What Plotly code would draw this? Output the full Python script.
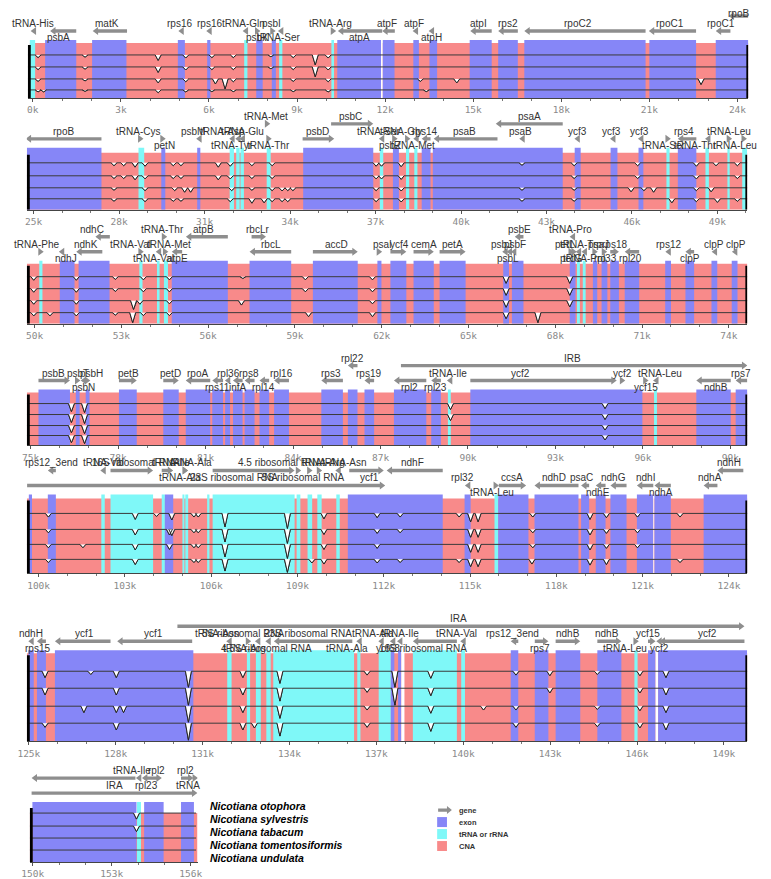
import plotly.graph_objects as go

W, H = 771, 879
OFF = 8                      # default page margin of the html body
FW, FH = W - OFF, H - OFF    # figure size so that it fits in the window

# ---------------- data ----------------
SPECIES = ["Nicotiana otophora", "Nicotiana sylvestris", "Nicotiana tabacum",
           "Nicotiana tomentosiformis", "Nicotiana undulata"]
LEGEND_LABELS = ["gene", "exon", "tRNA or rRNA", "CNA"]

PANEL_START = [-0.17, 24.76, 49.73, 74.87, 99.59, 124.93, 149.89]
PANEL_END = [24.37, 50.05, 74.64, 99.58, 124.64, 149.81, 156.26]
TICK_VALUES = [
    [0, 3, 6, 9, 12, 15, 18, 21, 24],
    [25, 28, 31, 34, 37, 40, 43, 46, 49],
    [50, 53, 56, 59, 62, 65, 68, 71, 74],
    [75, 78, 81, 84, 87, 90, 93, 96, 99],
    [100, 103, 106, 109, 112, 115, 118, 121, 124],
    [125, 128, 131, 134, 137, 140, 143, 146, 149],
    [150, 153, 156],
]

# blocks: (start kb, end kb, type)  e = exon, r = tRNA/rRNA, w = gap
P1_BLOCKS = [(-0.1, 0.08, 'r'), (0.42, 1.48, 'e'), (2.02, 3.19, 'e'), (4.94, 5.18, 'e'),
             (5.94, 6.05, 'e'), (7.2, 7.31, 'r'), (7.61, 7.83, 'e'), (8.14, 8.28, 'e'),
             (8.39, 8.5, 'r'), (10.17, 10.26, 'r'), (10.37, 11.86, 'e'), (11.86, 11.92, 'w'),
             (11.92, 12.32, 'e'), (12.96, 13.15, 'e'), (13.51, 13.77, 'e'), (14.88, 15.63, 'e'),
             (15.85, 16.52, 'e'), (16.74, 20.87, 'e'), (21.0, 22.59, 'e'), (23.26, 24.37, 'e')]
P2_BLOCKS = [(24.76, 27.38, 'e'), (28.68, 28.88, 'r'), (29.48, 29.62, 'e'), (30.74, 30.85, 'e'),
             (31.88, 32.03, 'r'), (32.11, 32.23, 'r'), (32.26, 32.38, 'r'), (33.18, 33.32, 'r'),
             (34.46, 36.92, 'e'), (37.15, 37.27, 'r'), (37.61, 37.82, 'e'), (38.07, 38.18, 'r'),
             (38.36, 38.47, 'r'), (38.62, 38.93, 'e'), (39.01, 43.57, 'e'), (43.99, 44.2, 'e'),
             (45.25, 45.49, 'e'), (46.23, 46.4, 'e'), (47.21, 47.32, 'r'), (47.61, 48.26, 'e'),
             (48.58, 48.7, 'r'), (49.35, 49.43, 'r'), (49.87, 50.04, 'r')]
P3_BLOCKS = [(50.16, 50.27, 'r'), (50.87, 51.38, 'e'), (51.52, 52.59, 'e'), (53.62, 53.73, 'r'),
             (54.23, 54.32, 'r'), (54.47, 54.61, 'r'), (54.74, 56.68, 'e'), (57.43, 58.87, 'e'),
             (59.62, 61.17, 'e'), (61.85, 61.99, 'e'), (62.3, 62.85, 'e'), (63.1, 63.8, 'e'),
             (64.0, 64.9, 'e'), (66.2, 66.4, 'e'), (66.5, 66.9, 'e'), (68.5, 68.7, 'e'),
             (68.75, 68.85, 'r'), (68.95, 69.05, 'r'), (69.3, 69.45, 'e'), (69.6, 69.8, 'e'),
             (69.9, 70.2, 'e'), (70.4, 70.9, 'e'), (71.8, 72.0, 'e'), (72.5, 72.8, 'e'),
             (73.4, 73.6, 'e'), (74.1, 74.3, 'e')]
P4_BLOCKS = [(75.27, 76.35, 'e'), (76.55, 76.68, 'e'), (76.89, 77.02, 'e'), (78.03, 78.64, 'e'),
             (79.55, 80.08, 'e'), (80.32, 81.16, 'e'), (81.23, 81.6, 'e'), (81.67, 81.84, 'e'),
             (81.94, 82.27, 'e'), (82.34, 82.68, 'e'), (82.85, 83.18, 'e'), (83.35, 83.86, 'e'),
             (84.97, 85.71, 'e'), (85.88, 86.21, 'e'), (86.45, 86.78, 'e'), (87.46, 88.57, 'e'),
             (88.74, 89.07, 'e'), (89.31, 89.41, 'r'), (90.08, 95.98, 'e'), (96.38, 96.48, 'r'),
             (97.83, 99.01, 'e'), (99.18, 99.58, 'e')]
P5_BLOCKS = [(99.66, 99.77, 'e'), (100.32, 100.6, 'e'), (102.18, 102.3, 'r'), (102.5, 103.98, 'r'),
             (104.28, 104.39, 'r'), (104.39, 104.68, 'e'), (105.0, 105.07, 'r'), (105.1, 105.2, 'r'),
             (105.86, 105.94, 'r'), (106.05, 108.9, 'r'), (108.97, 109.1, 'r'), (109.35, 109.51, 'r'),
             (109.69, 109.84, 'r'), (110.35, 110.47, 'r'), (110.75, 114.05, 'e'), (114.81, 115.02, 'e'),
             (115.85, 115.98, 'r'), (115.98, 117.03, 'e'), (117.24, 118.77, 'e'), (118.86, 119.14, 'e'),
             (119.37, 119.71, 'e'), (119.88, 120.44, 'e'), (120.8, 121.37, 'e'), (121.37, 121.41, 'w'),
             (121.41, 121.98, 'e'), (123.12, 124.64, 'e')]
P6_BLOCKS = [(124.98, 125.17, 'e'), (125.28, 125.59, 'e'), (125.9, 130.68, 'e'), (131.85, 132.0, 'r'),
             (132.53, 132.64, 'r'), (132.84, 133.01, 'r'), (133.2, 133.35, 'r'), (133.44, 136.23, 'r'),
             (136.34, 136.45, 'r'), (137.08, 137.5, 'r'), (137.5, 137.62, 'e'), (137.75, 137.86, 'e'),
             (137.86, 137.97, 'w'), (138.26, 139.78, 'r'), (139.93, 140.06, 'r'), (141.64, 141.9, 'e'),
             (142.47, 142.94, 'e'), (143.19, 144.04, 'e'), (144.63, 145.46, 'e'), (145.91, 146.02, 'r'),
             (146.38, 146.64, 'e'), (146.64, 146.73, 'w'), (146.73, 149.8, 'e')]
P7_BLOCKS = [(149.99, 153.94, 'e'), (153.96, 154.11, 'r'), (154.23, 154.97, 'e'), (155.63, 156.12, 'e')]

# genes: (name, start, end, strand, arrow row, label side, label centre kb)
P1_GENES = [("tRNA-His", -0.02, 0.06, '-', 0, 'a', 0.0), ("psbA", 0.59, 1.48, '-', 0, 'b', 0.87),
            ("matK", 2.04, 3.21, '-', 0, 'a', 2.54), ("rps16", 4.94, 5.16, '-', 0, 'a', 4.99),
            ("rps16", 5.94, 6.06, '-', 0, 'a', 6.02), ("tRNA-Gln", 7.18, 7.3, '-', 0, 'a', 7.17),
            ("psbK", 7.6, 7.72, '+', 0, 'b', 7.65), ("psbI", 8.12, 8.24, '+', 0, 'a', 8.12),
            ("tRNA-Ser", 8.38, 8.5, '-', 0, 'b', 8.36), ("tRNA-Arg", 10.18, 10.3, '+', 0, 'a', 10.14),
            ("atpA", 10.39, 11.9, '-', 0, 'b', 11.12), ("atpF", 11.9, 12.33, '-', 0, 'a', 12.07),
            ("atpF", 12.96, 13.1, '-', 0, 'a', 13.0), ("atpH", 13.5, 13.65, '-', 0, 'b', 13.57),
            ("atpI", 14.9, 15.63, '-', 0, 'a', 15.18), ("rps2", 15.85, 16.52, '-', 0, 'a', 16.19),
            ("rpoC2", 16.74, 20.87, '-', 0, 'a', 18.58), ("rpoC1", 20.98, 22.59, '-', 0, 'a', 21.7),
            ("rpoC1", 23.26, 23.76, '-', 0, 'a', 23.43), ("rpoB", 23.7, 24.37, '-', 1, 'a', 24.04)]
P2_GENES = [("rpoB", 24.72, 27.38, '-', 0, 'a', 26.04), ("tRNA-Cys", 28.7, 28.82, '+', 0, 'a', 28.68),
            ("petN", 29.48, 29.6, '+', 0, 'b', 29.59), ("psbM", 30.74, 30.86, '-', 0, 'a', 30.6),
            ("tRNA-Asp", 31.9, 32.02, '-', 0, 'a', 31.64), ("tRNA-Glu", 32.26, 32.38, '-', 0, 'a', 32.33),
            ("tRNA-Tyr", 32.11, 32.23, '-', 0, 'b', 31.96), ("tRNA-Thr", 33.2, 33.32, '+', 0, 'b', 33.23),
            ("tRNA-Met", 33.15, 33.27, '+', 1, 'a', 33.14), ("psbD", 34.44, 35.55, '+', 0, 'a', 34.98),
            ("psbC", 35.44, 36.92, '+', 1, 'a', 36.12), ("tRNA-Ser", 37.15, 37.27, '-', 0, 'a', 37.1),
            ("psbZ", 37.62, 37.74, '+', 0, 'b', 37.5), ("tRNA-Gly", 38.07, 38.19, '+', 0, 'a', 37.9),
            ("tRNA-Met", 38.36, 38.48, '-', 0, 'b', 38.3), ("rps14", 38.62, 38.93, '-', 0, 'a', 38.73),
            ("psaB", 39.04, 41.28, '-', 0, 'a', 40.13), ("psaB", 42.08, 42.2, '-', 0, 'a', 42.08),
            ("psaA", 41.22, 43.57, '-', 1, 'a', 42.42), ("ycf3", 44.0, 44.15, '-', 0, 'a', 44.08),
            ("ycf3", 45.25, 45.4, '-', 0, 'a', 45.29), ("ycf3", 46.23, 46.38, '-', 0, 'a', 46.26),
            ("tRNA-Ser", 47.21, 47.33, '+', 0, 'b', 47.12), ("rps4", 47.61, 48.26, '-', 0, 'a', 47.81),
            ("tRNA-Thr", 48.6, 48.72, '-', 0, 'b', 48.24), ("tRNA-Leu", 49.36, 49.48, '+', 0, 'a', 49.41),
            ("tRNA-Leu", 49.88, 50.0, '+', 0, 'b', 49.6)]
P3_GENES = [("tRNA-Phe", 50.16, 50.28, '+', 0, 'a', 50.08), ("ndhJ", 50.87, 50.99, '-', 0, 'b', 51.1),
            ("ndhK", 51.44, 52.34, '-', 0, 'a', 51.78), ("ndhC", 52.1, 52.6, '-', 1, 'a', 52.0),
            ("tRNA-Val", 53.62, 53.74, '+', 0, 'a', 53.3), ("tRNA-Met", 54.22, 54.34, '-', 0, 'a', 54.66),
            ("tRNA-Val", 54.47, 54.59, '+', 0, 'b', 54.1), ("atpE", 54.74, 55.1, '-', 0, 'b', 54.95),
            ("tRNA-Thr", 54.43, 54.55, '+', 1, 'a', 54.43), ("atpB", 55.23, 56.68, '-', 1, 'a', 55.85),
            ("rbcLr", 57.5, 58.0, '+', 1, 'a', 57.72), ("rbcL", 57.43, 58.87, '-', 0, 'a', 58.17),
            ("accD", 59.62, 61.17, '+', 0, 'a', 60.43), ("psaI", 61.86, 61.98, '+', 0, 'a', 62.02),
            ("ycf4", 62.3, 62.85, '+', 0, 'a', 62.6), ("cemA", 63.1, 63.8, '+', 0, 'a', 63.45),
            ("petA", 64.0, 64.9, '+', 0, 'a', 64.45), ("psbJ", 66.2, 66.32, '-', 0, 'a', 66.15),
            ("psbL", 66.35, 66.47, '-', 0, 'b', 66.35), ("psbF", 66.5, 66.62, '-', 0, 'a', 66.6),
            ("psbE", 66.6, 66.9, '-', 1, 'a', 66.77), ("petL", 68.5, 68.6, '+', 0, 'a', 68.35),
            ("petG", 68.6, 68.7, '+', 0, 'b', 68.55), ("tRNA-Trp", 68.75, 68.85, '-', 0, 'a', 68.9),
            ("tRNA-Pro", 68.95, 69.05, '-', 0, 'b', 69.0), ("tRNA-Pro", 68.53, 68.65, '-', 1, 'a', 68.53),
            ("psaJ", 69.3, 69.45, '+', 0, 'a', 69.5), ("rpl33", 69.6, 69.8, '+', 0, 'b', 69.75),
            ("rps18", 69.9, 70.2, '+', 0, 'a', 70.05), ("rpl20", 70.4, 70.9, '-', 0, 'b', 70.6),
            ("rps12", 71.8, 72.0, '-', 0, 'a', 71.9), ("clpP", 72.5, 72.8, '-', 0, 'b', 72.65),
            ("clpP", 73.4, 73.6, '-', 0, 'a', 73.5), ("clpP", 74.1, 74.3, '-', 0, 'a', 74.25)]
P4_GENES = [("psbB", 75.27, 76.35, '+', 0, 'a', 75.8), ("psbT", 76.55, 76.68, '+', 0, 'a', 76.62),
            ("psbN", 76.75, 76.87, '-', 0, 'b', 76.8), ("psbH", 76.89, 77.02, '+', 0, 'a', 77.1),
            ("petB", 78.03, 78.64, '+', 0, 'a', 78.35), ("petD", 79.55, 80.08, '+', 0, 'a', 79.8),
            ("rpoA", 80.32, 81.16, '-', 0, 'a', 80.74), ("rps11", 81.23, 81.6, '-', 0, 'b', 81.4),
            ("rpl36", 81.67, 81.84, '-', 0, 'a', 81.8), ("infA", 81.94, 82.27, '-', 0, 'b', 82.1),
            ("rps8", 82.34, 82.68, '-', 0, 'a', 82.5), ("rpl14", 82.85, 83.18, '-', 0, 'b', 83.0),
            ("rpl16", 83.35, 83.86, '-', 0, 'a', 83.6), ("rps3", 84.97, 85.71, '-', 0, 'a', 85.3),
            ("rpl22", 85.88, 86.21, '-', 1, 'a', 86.05), ("rps19", 86.45, 86.78, '-', 0, 'a', 86.6),
            ("rpl2", 87.46, 88.57, '-', 0, 'b', 88.0), ("rpl23", 88.74, 89.07, '-', 0, 'b', 88.9),
            ("tRNA-Ile", 89.31, 89.43, '-', 0, 'a', 89.3), ("ycf2", 90.08, 95.1, '+', 0, 'a', 91.8),
            ("ycf2", 95.2, 95.4, '+', 0, 'a', 95.3),
            ("ycf15", 96.0, 96.2, '+', 0, 'b', 96.1), ("tRNA-Leu", 96.38, 96.5, '-', 0, 'a', 96.6),
            ("ndhB", 97.83, 99.01, '-', 0, 'b', 98.5), ("rps7", 99.18, 99.58, '-', 0, 'a', 99.35),
            ("IRB", 87.7, 99.58, '+', 1, 'a', 93.6)]
P5_GENES = [("", 99.6, 112.05, '+', 0, '', 0),
            ("rps12_3end", 100.32, 100.6, '-', 1, 'a', 100.45), ("tRNA-Val", 102.18, 102.3, '-', 1, 'a', 102.24),
            ("16S ribosomal RNA", 102.5, 103.98, '+', 1, 'a', 103.4), ("tRNA-Ile", 104.28, 104.68, '+', 1, 'a', 104.6),
            ("tRNA-Ala", 105.0, 105.2, '+', 1, 'a', 105.3), ("tRNA-Ala", 105.0, 105.2, '+', 1, 'b', 104.9),
            ("23S ribosomal RNA", 106.05, 108.9, '+', 1, 'b', 106.8), ("4.5 ribosomal RNA", 108.97, 109.1, '+', 1, 'a', 108.4),
            ("5S ribosomal RNA", 109.35, 109.51, '+', 1, 'b', 109.2), ("tRNA-Arg", 109.69, 109.84, '+', 1, 'a', 109.9),
            ("tRNA-Asn", 110.35, 110.47, '-', 1, 'a', 110.6), ("ycf1", 110.8, 112.0, '+', 1, 'b', 111.5),
            ("ndhF", 112.1, 114.05, '-', 1, 'a', 113.0),
            ("rpl32", 114.81, 115.02, '-', 0, 'a', 114.74), ("tRNA-Leu", 115.85, 115.97, '+', 0, 'b', 115.76),
            ("ccsA", 116.0, 116.95, '+', 0, 'a', 116.45), ("ndhD", 117.24, 118.77, '-', 0, 'a', 117.92),
            ("psaC", 118.86, 119.14, '-', 0, 'a', 118.87), ("ndhE", 119.37, 119.71, '-', 0, 'b', 119.45),
            ("ndhG", 119.88, 120.44, '-', 0, 'a', 119.97), ("ndhI", 120.8, 121.37, '-', 0, 'a', 121.09),
            ("ndhA", 121.41, 121.98, '-', 0, 'b', 121.64), ("ndhA", 123.12, 123.6, '-', 0, 'a', 123.34),
            ("ndhH", 123.6, 124.5, '-', 1, 'a', 124.0)]
P6_GENES = [("ndhH", 124.98, 125.17, '-', 0, 'a', 125.06), ("rps15", 125.28, 125.59, '-', 0, 'b', 125.3),
            ("ycf1", 125.9, 127.82, '-', 0, 'a', 126.92), ("ycf1", 128.05, 130.64, '-', 0, 'a', 129.29),
            ("IRA", 130.13, 149.71, '+', 1, 'a', 139.84),
            ("tRNA-Asn", 131.85, 131.97, '-', 0, 'a', 131.5), ("5S ribosomal RNA", 132.53, 132.64, '+', 0, 'a', 132.4),
            ("tRNA-Arg", 132.84, 132.96, '-', 0, 'b', 132.45), ("4.5S ribosomal RNA", 133.2, 133.32, '-', 0, 'b', 133.2),
            ("23S ribosomal RNA", 133.46, 136.17, '-', 0, 'a', 134.65), ("tRNA-Ala", 136.34, 136.46, '-', 0, 'b', 136.0),
            ("tRNA-Ala", 137.1, 137.22, '-', 0, 'a', 136.9), ("tRNA-Ile", 137.5, 137.62, '-', 0, 'a', 137.8),
            ("ycf68", 137.75, 137.86, '-', 0, 'b', 137.4), ("16S ribosomal RNA", 138.26, 139.78, '-', 0, 'b', 138.6),
            ("tRNA-Val", 139.93, 140.05, '-', 0, 'a', 139.78), ("rps12_3end", 141.64, 141.9, '-', 0, 'a', 141.7),
            ("rps7", 142.47, 142.94, '+', 0, 'b', 142.66), ("ndhB", 143.19, 144.04, '+', 0, 'a', 143.6),
            ("ndhB", 144.63, 145.46, '+', 0, 'a', 144.97), ("tRNA-Leu", 145.91, 146.03, '+', 0, 'b', 145.6),
            ("ycf15", 146.38, 146.64, '+', 0, 'a', 146.38), ("ycf2", 146.78, 149.71, '-', 0, 'a', 148.42),
            ("ycf2", 146.7, 146.82, '-', 0, 'b', 146.76)]
P7_GENES = [("", 149.96, 153.9, '-', 1, '', 0), ("tRNA-Ile", 153.96, 154.08, '-', 1, 'a', 153.78),
            ("rpl2", 154.3, 154.9, '+', 1, 'a', 154.7), ("rpl23", 154.2, 154.3, '-', 1, 'b', 154.31),
            ("rpl2", 155.63, 156.1, '+', 1, 'a', 155.81), ("tRNA", 156.12, 156.22, '+', 1, 'b', 155.88),
            ("IRA", 149.96, 156.25, '+', 0, 'a', 153.1)]

# dips: (track 1-4, position kb, minimum identity %)
P1_DIPS = [(1, 0.18, 88), (1, 1.78, 90), (1, 4.27, 75), (1, 5.21, 86), (1, 6.1, 88), (1, 6.83, 88),
           (1, 8.11, 92), (1, 8.87, 88), (1, 9.62, 55), (1, 10.06, 86),
           (2, 0.18, 88), (2, 1.78, 90), (2, 4.27, 75), (2, 5.21, 86), (2, 6.1, 88), (2, 6.83, 88),
           (2, 8.11, 92), (2, 8.87, 88), (2, 9.62, 55), (2, 10.06, 86),
           (3, 0.18, 88), (3, 1.78, 90), (3, 4.27, 80), (3, 5.21, 86), (3, 6.22, 75), (3, 6.55, 45),
           (3, 6.83, 86), (3, 8.87, 88), (3, 10.06, 86), (3, 13.2, 88), (3, 14.44, 80), (3, 22.76, 72),
           (4, 0.18, 86), (4, 0.37, 86), (4, 1.78, 90), (4, 4.27, 80), (4, 5.21, 86), (4, 6.1, 88),
           (4, 6.83, 88), (4, 8.87, 88), (4, 10.06, 86), (4, 13.4, 88)]
P2_DIPS = [(1, 27.82, 88), (1, 28.16, 88), (1, 28.56, 82), (1, 28.91, 86), (1, 29.9, 88), (1, 30.17, 88),
           (1, 31.48, 82), (1, 31.9, 86), (1, 32.66, 88), (1, 33.37, 88), (1, 37.02, 86), (1, 37.21, 86),
           (1, 37.9, 84), (1, 42.14, 90), (1, 43.97, 88), (1, 46.2, 88), (1, 48.26, 86), (1, 48.95, 88),
           (1, 49.7, 88),
           (2, 27.82, 88), (2, 28.16, 88), (2, 28.56, 82), (2, 28.91, 86), (2, 29.9, 88), (2, 30.17, 88),
           (2, 31.48, 82), (2, 31.9, 86), (2, 32.66, 88), (2, 33.37, 88), (2, 37.02, 86), (2, 37.21, 86),
           (2, 37.9, 84), (2, 43.97, 88), (2, 46.2, 88), (2, 48.26, 86), (2, 49.7, 88),
           (3, 27.82, 88), (3, 28.91, 86), (3, 29.95, 86), (3, 30.3, 78), (3, 30.51, 78), (3, 31.95, 86),
           (3, 32.66, 88), (3, 33.37, 86), (3, 33.72, 84), (3, 33.92, 86), (3, 34.1, 86), (3, 37.02, 86),
           (3, 37.9, 84), (3, 42.14, 88), (3, 43.97, 88), (3, 45.97, 80), (3, 46.42, 86), (3, 46.76, 78),
           (3, 48.26, 86), (3, 48.78, 80),
           (4, 27.82, 88), (4, 28.91, 86), (4, 29.9, 88), (4, 30.17, 88), (4, 31.9, 86), (4, 32.66, 78),
           (4, 33.09, 80), (4, 33.37, 86), (4, 33.72, 86), (4, 33.92, 86), (4, 37.02, 86), (4, 37.9, 84),
           (4, 42.14, 88), (4, 43.97, 88), (4, 47.4, 80), (4, 48.26, 86), (4, 49.0, 82), (4, 49.7, 88)]
P3_DIPS = [(1, 49.97, 84), (1, 51.44, 84), (1, 52.79, 88), (1, 53.76, 86), (1, 54.66, 86), (1, 57.2, 92),
           (1, 59.36, 86), (1, 61.68, 86), (1, 66.3, 70), (1, 68.5, 70),
           (2, 49.97, 84), (2, 51.44, 84), (2, 52.79, 88), (2, 53.76, 86), (2, 54.66, 86), (2, 59.36, 86),
           (2, 61.68, 86), (2, 66.3, 70), (2, 68.5, 70),
           (3, 49.97, 84), (3, 51.44, 84), (3, 53.42, 60), (3, 53.64, 84), (3, 54.66, 86), (3, 57.15, 80),
           (3, 61.68, 86), (3, 66.3, 70), (3, 68.5, 72),
           (4, 49.97, 84), (4, 50.53, 84), (4, 51.44, 84), (4, 52.79, 88), (4, 53.39, 45), (4, 53.76, 86),
           (4, 54.66, 86), (4, 59.47, 80), (4, 61.68, 80), (4, 66.3, 70), (4, 67.4, 50)]
P4_DIPS = [(1, 76.4, 60), (1, 76.85, 55), (1, 89.4, 70), (1, 94.7, 75),
           (2, 76.4, 60), (2, 76.85, 55), (2, 89.4, 70), (2, 94.7, 75),
           (3, 76.4, 60), (3, 76.85, 55), (3, 94.7, 75),
           (4, 76.4, 60), (4, 76.85, 55), (4, 94.7, 75)]
P5_DIPS = [(1, 100.34, 88), (1, 103.36, 80), (1, 104.1, 90), (1, 104.63, 78), (1, 105.4, 88), (1, 105.55, 88),
           (1, 106.48, 55), (1, 108.65, 45), (1, 109.92, 82), (1, 111.77, 86), (1, 112.57, 88), (1, 114.62, 88),
           (1, 115.02, 72), (1, 115.28, 72), (1, 117.18, 88), (1, 119.17, 80), (1, 119.74, 86), (1, 120.82, 88),
           (1, 122.3, 88),
           (2, 100.34, 88), (2, 103.36, 80), (2, 104.55, 80), (2, 104.63, 78), (2, 105.4, 88), (2, 105.55, 88),
           (2, 106.48, 55), (2, 108.65, 45), (2, 109.92, 82), (2, 111.77, 86), (2, 112.57, 88), (2, 115.02, 72),
           (2, 115.28, 72), (2, 117.18, 88), (2, 119.17, 80), (2, 119.74, 86), (2, 120.82, 88),
           (3, 100.34, 88), (3, 101.54, 88), (3, 103.36, 80), (3, 104.55, 82), (3, 105.4, 88), (3, 105.55, 88),
           (3, 106.48, 55), (3, 108.65, 45), (3, 109.92, 82), (3, 111.77, 86), (3, 115.02, 72), (3, 115.28, 72),
           (3, 117.18, 88), (3, 119.17, 80), (3, 119.74, 86), (3, 120.82, 88),
           (4, 100.34, 88), (4, 103.36, 80), (4, 105.4, 88), (4, 105.55, 88), (4, 106.48, 55), (4, 108.65, 45),
           (4, 109.5, 86), (4, 109.92, 82), (4, 111.77, 86), (4, 112.57, 88), (4, 114.62, 88), (4, 115.02, 72),
           (4, 115.28, 72), (4, 117.15, 82), (4, 119.17, 78), (4, 119.74, 80), (4, 122.3, 88)]
P6_DIPS = [(1, 125.56, 80), (1, 127.14, 90), (1, 128.02, 80), (1, 130.51, 48), (1, 132.39, 80), (1, 133.67, 62),
           (1, 136.68, 88), (1, 137.64, 40), (1, 138.88, 78), (1, 141.82, 88), (1, 142.99, 86), (1, 144.63, 90),
           (1, 146.1, 86), (1, 147.0, 80),
           (2, 125.56, 80), (2, 128.02, 80), (2, 130.51, 48), (2, 132.39, 80), (2, 133.67, 62), (2, 136.68, 88),
           (2, 137.64, 40), (2, 138.88, 78), (2, 142.99, 86), (2, 146.1, 86), (2, 147.0, 80),
           (3, 126.9, 80), (3, 128.02, 80), (3, 128.27, 80), (3, 130.51, 48), (3, 132.39, 80), (3, 133.67, 62),
           (3, 136.68, 88), (3, 138.88, 78), (3, 140.7, 88), (3, 141.82, 88), (3, 144.63, 90), (3, 146.1, 86),
           (3, 147.0, 80),
           (4, 125.56, 88), (4, 128.02, 80), (4, 130.51, 48), (4, 132.39, 80), (4, 132.79, 86), (4, 133.67, 62),
           (4, 136.68, 88), (4, 138.88, 76), (4, 141.82, 88), (4, 144.63, 90), (4, 146.1, 86), (4, 147.0, 80)]
P7_DIPS = [(1, 153.94, 75), (2, 153.94, 75)]

BLOCKS = [P1_BLOCKS, P2_BLOCKS, P3_BLOCKS, P4_BLOCKS, P5_BLOCKS, P6_BLOCKS, P7_BLOCKS]
GENES = [P1_GENES, P2_GENES, P3_GENES, P4_GENES, P5_GENES, P6_GENES, P7_GENES]
DIPS = [P1_DIPS, P2_DIPS, P3_DIPS, P4_DIPS, P5_DIPS, P6_DIPS, P7_DIPS]

# ---------------- layout geometry (window pixels) ----------------
GEO_T = [40, 148, 261, 390, 495, 651, 803]      # annotation strip top
GEO_C = [43, 153, 264, 393, 499, 654, 807]      # conservation area top
GEO_LINES = [[55, 67, 79, 90], [163, 176, 188, 199], [277, 289, 301, 313], [404, 415, 426, 436],
             [514, 530, 545, 560], [672, 689, 707, 724], [814, 827, 839, 851]]
GEO_B = [98, 210, 324, 446, 574, 742, 863]
DOM_L = [19, 18, 18, 18, 18, 18, 21]
DOM_R = [753, 752, 752, 752, 752, 752, 192]
PINK_FROM_TRACK = [0, 0, 0, 0, 0, 0, 1]

COL = {'e': '#8686F7', 'r': '#7FF8F8', 'c': '#F88A8A', 'w': '#FFFFFF'}
GENE_COL = '#8E8E8E'
LABEL_FONT = dict(family="Liberation Sans, Arial", size=10, color="#333333")


def pxx(x):
    return (x - OFF) / FW


def pxy(y):
    return 1 - (y - OFF) / FH


fig = go.Figure()
shapes, annos = [], []
layout_axes = {}


def axis_ids(i):
    return ('x' if i == 0 else f'x{i+1}'), ('y' if i == 0 else f'y{i+1}')


def arrow_path(s, e, strand, yc, kbpp):
    head = 5.5 * kbpp
    bh, hh = 1.7, 4.0
    if e - s <= head * 1.2:
        m = (s + e) / 2
        if strand == '+':
            pts = [(m - head / 2, yc - hh), (m + head / 2, yc), (m - head / 2, yc + hh)]
        else:
            pts = [(m + head / 2, yc - hh), (m - head / 2, yc), (m + head / 2, yc + hh)]
    elif strand == '+':
        pts = [(s, yc - bh), (e - head, yc - bh), (e - head, yc - hh), (e, yc),
               (e - head, yc + hh), (e - head, yc + bh), (s, yc + bh)]
    else:
        pts = [(e, yc - bh), (s + head, yc - bh), (s + head, yc - hh), (s, yc),
               (s + head, yc + hh), (s + head, yc + bh), (e, yc + bh)]
    return 'M ' + ' L '.join(f'{x:.4f},{y:.2f}' for x, y in pts) + ' Z'


for i in range(7):
    xid, yid = axis_ids(i)
    xs0, xs1 = PANEL_START[i], PANEL_END[i]
    T, C, LN, B = GEO_T[i], GEO_C[i], GEO_LINES[i], GEO_B[i]
    top_px = max(T - 42, OFF)
    kbpp = (xs1 - xs0) / (DOM_R[i] - DOM_L[i])
    xkey = 'xaxis' if i == 0 else f'xaxis{i+1}'
    ykey = 'yaxis' if i == 0 else f'yaxis{i+1}'
    layout_axes[xkey] = dict(
        domain=[pxx(DOM_L[i]), pxx(DOM_R[i])], range=[xs0, xs1], anchor=yid,
        tickvals=TICK_VALUES[i], ticktext=[f"{v}k" for v in TICK_VALUES[i]],
        ticks='outside', ticklen=3, tickcolor='#555555', tickwidth=1,
        minor=dict(dtick=1, tick0=0, ticks='outside', ticklen=2, tickcolor='#777777'),
        showline=True, linecolor='#444444', linewidth=1, showgrid=False, zeroline=False,
        tickfont=dict(family="DejaVu Sans Mono", size=9.5, color="#8a8a8a"), fixedrange=True)
    layout_axes[ykey] = dict(
        domain=[pxy(B), pxy(top_px)], range=[B, top_px], anchor=xid,
        visible=False, showgrid=False, zeroline=False, fixedrange=True)

    # CNS background
    pink_top = C if PINK_FROM_TRACK[i] == 0 else LN[0]
    pink_right = xs1 if i < 6 else 156.25
    shapes.append(dict(type='rect', xref=xid, yref=yid, x0=max(xs0, -0.1), x1=pink_right,
                       y0=pink_top, y1=B, fillcolor=COL['c'], line_width=0, layer='below'))
    # exon / RNA / gap blocks
    for s, e, t in BLOCKS[i]:
        shapes.append(dict(type='rect', xref=xid, yref=yid, x0=s, x1=e, y0=T, y1=B,
                           fillcolor=COL[t], line_width=0, layer='below'))

    # conservation curves
    heights = [LN[k + 1] - LN[k] for k in range(3)] + [B - LN[3]]
    w = 3.0 * kbpp
    fx, fy = [], []
    for tr in range(1, 5):
        ly, h = LN[tr - 1], heights[tr - 1]
        dips = sorted([(p, idt) for (t_, p, idt) in DIPS[i] if t_ == tr])
        cx, cy = [xs0], [ly]
        for p, idt in dips:
            d = min((100 - idt) / 50.0, 1.0) * (h - 1)
            cx += [p - w, p, p + w]
            cy += [ly, ly + d, ly]
            fx += [p - w, p, p + w, None]
            fy += [ly, ly + d, ly, None]
        cx.append(xs1 if i < 6 else 156.2)
        cy.append(ly)
        fig.add_trace(go.Scatter(x=cx, y=cy, mode='lines', xaxis=xid, yaxis=yid,
                                 line=dict(color='#3a3a3a', width=1), hoverinfo='skip',
                                 showlegend=False))
    if fx:
        fig.add_trace(go.Scatter(x=fx, y=fy, mode='lines', fill='toself', fillcolor='white',
                                 line=dict(width=0), xaxis=xid, yaxis=yid, hoverinfo='skip',
                                 showlegend=False))
        fig.add_trace(go.Scatter(x=fx, y=fy, mode='lines', line=dict(color='#222222', width=1),
                                 xaxis=xid, yaxis=yid, hoverinfo='skip', showlegend=False))

    # frame bars
    shapes.append(dict(type='line', xref=xid, yref=yid, x0=xs0 + 1.5 * kbpp, x1=xs0 + 1.5 * kbpp,
                       y0=C + 2, y1=B, line=dict(color='black', width=3)))
    if i < 6:
        shapes.append(dict(type='line', xref=xid, yref=yid, x0=xs1 - kbpp, x1=xs1 - kbpp,
                           y0=C + 2, y1=B, line=dict(color='black', width=2)))

    # genes
    for name, s, e, strand, row, side, lx in GENES[i]:
        ay = T - 9 if row == 0 else T - 24
        shapes.append(dict(type='path', xref=xid, yref=yid,
                           path=arrow_path(s, e, strand, ay, kbpp),
                           fillcolor=GENE_COL, line_width=0))
        if name and side:
            ly = ay - 7.5 if side == 'a' else ay + 7
            ly = max(ly, top_px + 6)
            annos.append(dict(x=lx, y=ly, xref=xid, yref=yid, text=name, showarrow=False,
                              font=LABEL_FONT, xanchor='center', yanchor='middle'))

# species labels
SPECIES_Y = [807, 820, 833, 846, 859]
for name, yp in zip(SPECIES, SPECIES_Y):
    annos.append(dict(x=pxx(203), y=pxy(yp), xref='paper', yref='paper',
                      text=f"<b><i>{name}</i></b>", showarrow=False, xanchor='left',
                      yanchor='middle', font=dict(family="Liberation Sans, Arial", size=10.5,
                                                  color='black')))

# legend
lx0, lx1, ly0 = 437, 451, 811
pts = [(lx0, ly0 - 1.7), (lx1 - 5, ly0 - 1.7), (lx1 - 5, ly0 - 4), (lx1, ly0), (lx1 - 5, ly0 + 4),
       (lx1 - 5, ly0 + 1.7), (lx0, ly0 + 1.7)]
shapes.append(dict(type='path', xref='paper', yref='paper',
                   path='M ' + ' L '.join(f'{pxx(a):.5f},{pxy(b):.5f}' for a, b in pts) + ' Z',
                   fillcolor=GENE_COL, line_width=0))
LEG_Y = [811, 823, 835, 847]
for k, (lab, yy) in enumerate(zip(LEGEND_LABELS, LEG_Y)):
    if k > 0:
        c = [COL['e'], COL['r'], COL['c']][k - 1]
        shapes.append(dict(type='rect', xref='paper', yref='paper', x0=pxx(436), x1=pxx(446),
                           y0=pxy(yy + 5), y1=pxy(yy - 5), fillcolor=c, line_width=0))
    annos.append(dict(x=pxx(456), y=pxy(yy), xref='paper', yref='paper', text=f"<b>{lab}</b>",
                      showarrow=False, xanchor='left', yanchor='middle',
                      font=dict(family="Liberation Sans, Arial", size=7.5, color='#333333')))

fig.update_layout(width=FW, height=FH, margin=dict(l=0, r=0, t=0, b=0),
                  paper_bgcolor='white', plot_bgcolor='white', showlegend=False,
                  shapes=shapes, annotations=annos, **layout_axes)
fig.write_html("out.html")
